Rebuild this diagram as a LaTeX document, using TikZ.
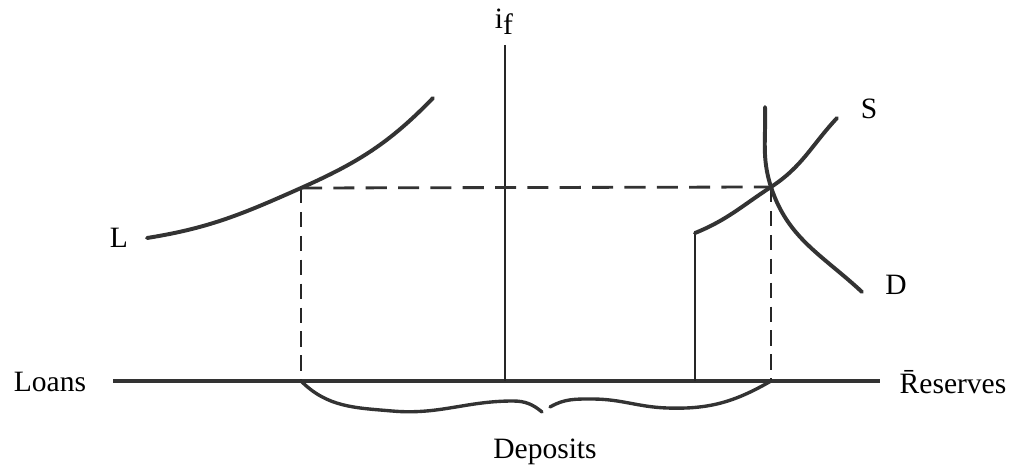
\documentclass[tikz,border=0pt]{standalone}
\usepackage{fontspec}
\setmainfont{Liberation Serif}
\usepackage{tikz}
\usetikzlibrary{positioning}

\begin{document}
\begin{tikzpicture}[
    x=0.025cm, y=-0.025cm,
    axisline/.style={line width=2.8pt, color=black!80},
    thinline/.style={line width=0.9pt, color=black!85},
    curveline/.style={line width=2.8pt, color=black!80, line cap=round},
    guide/.style={dash pattern=on 15pt off 8pt, line width=2pt, color=black!80},
    vguide/.style={dash pattern=on 11pt off 6pt, line width=1pt, color=black!85},
    lbl/.style={font=\fontsize{21}{24}\selectfont, inner sep=0pt},
    bracepart/.style={line width=2.4pt, color=black!80, line cap=round}
]
\useasboundingbox (0,0) rectangle (1015,472);

% axes
\coordinate (ax0) at (113,381);
\coordinate (ax1) at (880,381);
\coordinate (top) at (505,45);
\coordinate (bot) at (505,381);
\draw[axisline] (ax0) -- (ax1);
\draw[thinline] (top) -- (bot);

% equilibrium points
\coordinate (eL) at (301,188);
\coordinate (eR) at (771,187);
\coordinate (eLb) at (301,381);
\coordinate (eRb) at (771,381);

% dashed guides
\draw[guide] (eL) -- (eR);
\draw[vguide] (eL) -- (eLb);
\draw[vguide] (eR) -- (eRb);

% loan curve
\coordinate (L0) at (147,238);
\coordinate (L1) at (433,98);
\draw[curveline] (L0) to[out=9,in=204] (eL) to[out=24,in=226] (L1);

% supply curve with vertical part
\coordinate (S0) at (695,381);
\coordinate (S1) at (695,233);
\coordinate (S2) at (837,118);
\draw[thinline] (S0) -- (S1);
\draw[curveline] (S1) to[out=22,in=213] (eR) to[out=33,in=227] (S2);

% demand curve
\coordinate (D0) at (765,107);
\coordinate (D1) at (862,292);
\draw[curveline] (D0) to[out=-88,in=108] (eR) to[out=-72,in=137] (D1);

% brace under deposits
\coordinate (bl1) at (392,411);
\coordinate (bl2) at (513,401);
\coordinate (btip) at (542,412);
\coordinate (br0) at (550,407);
\coordinate (br1) at (592,399);
\coordinate (br2) at (667,408);
\draw[bracepart] (eLb) to[out=-45,in=175] (bl1) to[out=-5,in=180] (bl2) to[out=0,in=140] (btip);
\draw[bracepart] (br0) to[out=30,in=180] (br1) to[out=0,in=178] (br2) to[out=-2,in=210] (eRb);

% labels
\node[lbl] (if) at (504,22) {i\raisebox{-0.2em}{f}};
\node[lbl] (loans) at (50,382) {Loans};
\node[lbl] (res) at (953,382) {\={R}eserves};
\node[lbl] (dep) at (545,452) {Deposits};
\node[lbl] (Llbl) at (119,238) {L};
\node[lbl] (Slbl) at (869,109) {S};
\node[lbl] (Dlbl) at (896,285) {D};
\end{tikzpicture}
\end{document}
